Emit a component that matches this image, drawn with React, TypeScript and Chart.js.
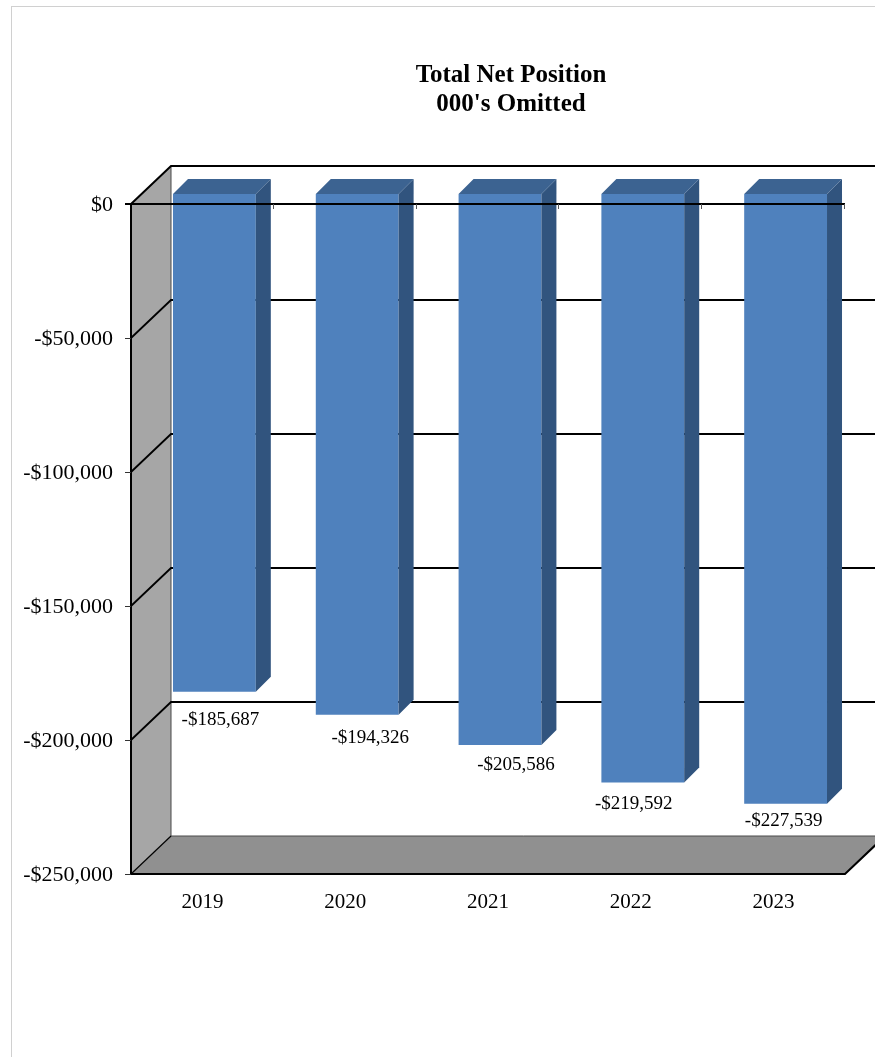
import React, { useEffect, useRef } from "react";
import { Chart, registerables } from "chart.js";

Chart.register(...registerables);

const categories = ["2019", "2020", "2021", "2022", "2023"];
const netPosition = [-185687, -194326, -205586, -219592, -227539];
const yTicks = [0, -50000, -100000, -150000, -200000, -250000];
const titleLines = ["Total Net Position", "000's Omitted"];
// small per-label nudges (px) that mimic Excel's 3D label placement
const labelNudgeX = [6, 13, 16, -9, -2];
const labelNudgeY = [28, 23, 20, 22, 17];

const SERIF = '"Liberation Serif", "Times New Roman", serif';
const DEPTH_X = 40;
const DEPTH_Y = -38;
const BAR_DX = 12;
const BAR_DY = -10;
const BAR_DEPTH = 15;

const fmt = (v: number) =>
  v === 0 ? "$0" : "-$" + Math.abs(v).toLocaleString("en-US");

const threeD = {
  id: "threeD",
  beforeDatasetsDraw(chart: any) {
    const { ctx, chartArea } = chart;
    const ys = chart.scales.y;
    const L = chartArea.left;
    const R = chartArea.right;
    const T = chartArea.top;
    const B = chartArea.bottom;
    ctx.save();
    // side wall
    ctx.beginPath();
    ctx.moveTo(L, T);
    ctx.lineTo(L + DEPTH_X, T + DEPTH_Y);
    ctx.lineTo(L + DEPTH_X, B + DEPTH_Y);
    ctx.lineTo(L, B);
    ctx.closePath();
    ctx.fillStyle = "#a6a6a6";
    ctx.fill();
    // floor
    ctx.beginPath();
    ctx.moveTo(L, B);
    ctx.lineTo(L + DEPTH_X, B + DEPTH_Y);
    ctx.lineTo(R + DEPTH_X, B + DEPTH_Y);
    ctx.lineTo(R, B);
    ctx.closePath();
    ctx.fillStyle = "#909090";
    ctx.fill();
    // back wall left edge & floor back edge
    ctx.strokeStyle = "#4a4a4a";
    ctx.lineWidth = 1;
    ctx.beginPath();
    ctx.moveTo(L + DEPTH_X, T + DEPTH_Y);
    ctx.lineTo(L + DEPTH_X, B + DEPTH_Y);
    ctx.lineTo(R + DEPTH_X, B + DEPTH_Y);
    ctx.stroke();
    // gridlines (side wall diagonal + back wall)
    ctx.strokeStyle = "#000";
    ctx.lineWidth = 1.8;
    yTicks.forEach((v) => {
      if (v === 0 || v === -250000) return;
      const y = ys.getPixelForValue(v);
      ctx.beginPath();
      ctx.moveTo(L, y);
      ctx.lineTo(L + DEPTH_X, y + DEPTH_Y);
      ctx.lineTo(R + DEPTH_X, y + DEPTH_Y);
      ctx.stroke();
    });
    // back wall top edge
    ctx.lineWidth = 2;
    ctx.beginPath();
    ctx.moveTo(L, T);
    ctx.lineTo(L + DEPTH_X, T + DEPTH_Y);
    ctx.lineTo(R + DEPTH_X, T + DEPTH_Y);
    ctx.stroke();
    // floor front edge and right diagonal
    ctx.beginPath();
    ctx.moveTo(L, B);
    ctx.lineTo(R, B);
    ctx.lineTo(R + DEPTH_X, B + DEPTH_Y);
    ctx.stroke();
    ctx.beginPath();
    ctx.moveTo(L, B);
    ctx.lineTo(L + DEPTH_X, B + DEPTH_Y);
    ctx.lineWidth = 1.2;
    ctx.stroke();
    // y axis line + ticks
    ctx.lineWidth = 2;
    ctx.beginPath();
    ctx.moveTo(L, T);
    ctx.lineTo(L, B);
    ctx.stroke();
    ctx.lineWidth = 1;
    ctx.strokeStyle = "#333";
    yTicks.forEach((v) => {
      const y = Math.round(ys.getPixelForValue(v)) + 0.5;
      ctx.beginPath();
      ctx.moveTo(L - 6, y);
      ctx.lineTo(L, y);
      ctx.stroke();
    });
    ctx.restore();
    ctx.save();
    ctx.translate(BAR_DX, BAR_DY);
  },
  afterDatasetsDraw(chart: any) {
    const { ctx, chartArea } = chart;
    const ys = chart.scales.y;
    const xs = chart.scales.x;
    const meta = chart.getDatasetMeta(0);
    // 3D faces of bars (still translated)
    meta.data.forEach((bar: any) => {
      const p = bar.getProps(["x", "y", "base", "width"], true);
      const left = p.x - p.width / 2;
      const right = p.x + p.width / 2;
      const top = Math.min(p.y, p.base);
      const bottom = Math.max(p.y, p.base);
      ctx.fillStyle = "#31547e";
      ctx.beginPath();
      ctx.moveTo(right, top);
      ctx.lineTo(right + BAR_DEPTH, top - BAR_DEPTH);
      ctx.lineTo(right + BAR_DEPTH, bottom - BAR_DEPTH);
      ctx.lineTo(right, bottom);
      ctx.closePath();
      ctx.fill();
      ctx.fillStyle = "#3c6391";
      ctx.beginPath();
      ctx.moveTo(left, top);
      ctx.lineTo(left + BAR_DEPTH, top - BAR_DEPTH);
      ctx.lineTo(right + BAR_DEPTH, top - BAR_DEPTH);
      ctx.lineTo(right, top);
      ctx.closePath();
      ctx.fill();
    });
    ctx.restore();

    const L = chartArea.left;
    const R = chartArea.right;
    ctx.save();
    // $0 axis line drawn over bars
    const y0 = ys.getPixelForValue(0);
    ctx.strokeStyle = "#000";
    ctx.lineWidth = 2;
    ctx.beginPath();
    ctx.moveTo(L - 6, y0);
    ctx.lineTo(R, y0);
    ctx.stroke();
    ctx.strokeStyle = "#555";
    ctx.lineWidth = 1;
    for (let i = 1; i <= categories.length; i++) {
      const x = Math.round(L + ((R - L) * i) / categories.length) - 0.5;
      ctx.beginPath();
      ctx.moveTo(x, y0);
      ctx.lineTo(x, y0 + 5);
      ctx.stroke();
    }
    // data labels
    ctx.fillStyle = "#000";
    ctx.font = `19px ${SERIF}`;
    ctx.textAlign = "center";
    ctx.textBaseline = "middle";
    meta.data.forEach((bar: any, i: number) => {
      const p = bar.getProps(["x", "y"], true);
      ctx.fillText(
        fmt(netPosition[i]),
        p.x + BAR_DX + labelNudgeX[i],
        p.y + BAR_DY + labelNudgeY[i]
      );
    });
    // y tick labels
    ctx.font = `22px ${SERIF}`;
    ctx.textAlign = "right";
    yTicks.forEach((v) => {
      ctx.fillText(fmt(v), L - 18, ys.getPixelForValue(v) + 1);
    });
    // category labels
    ctx.textAlign = "center";
    ctx.font = `21px ${SERIF}`;
    categories.forEach((c, i) => {
      ctx.fillText(c, xs.getPixelForValue(i), chartArea.bottom + 28);
    });
    // title
    ctx.font = `bold 25px ${SERIF}`;
    ctx.textBaseline = "alphabetic";
    ctx.fillText(titleLines[0], 511, 82);
    ctx.fillText(titleLines[1], 511, 111);
    ctx.restore();
  },
};

export default function App() {
  const ref = useRef<HTMLCanvasElement>(null);
  useEffect(() => {
    if (!ref.current) return;
    const chart = new Chart(ref.current, {
      type: "bar",
      data: {
        labels: categories,
        datasets: [
          {
            data: netPosition,
            backgroundColor: "#4f81bd",
            borderWidth: 0,
            barPercentage: 0.58,
            categoryPercentage: 1,
            clip: false as any,
          },
        ],
      },
      options: {
        animation: false,
        responsive: false,
        maintainAspectRatio: false,
        layout: { padding: { left: 131, top: 204, right: 30, bottom: 183 } },
        plugins: {
          legend: { display: false },
          title: { display: false },
          tooltip: { enabled: false },
        },
        scales: {
          x: { display: false, offset: true },
          y: { display: false, min: -250000, max: 0 },
        },
      },
      plugins: [threeD],
    });
    return () => chart.destroy();
  }, []);
  return (
    <div
      style={{
        position: "fixed",
        left: 0,
        top: 0,
        width: 875,
        height: 1057,
        overflow: "hidden",
        background: "#fff",
      }}
    >
      <div
        style={{
          position: "absolute",
          left: 11,
          top: 6,
          width: 1000,
          height: 1200,
          border: "1px solid #d0d0d0",
        }}
      />
      <canvas
        ref={ref}
        width={875}
        height={1057}
        style={{ position: "absolute", left: 0, top: 0, width: 875, height: 1057 }}
      />
    </div>
  );
}
